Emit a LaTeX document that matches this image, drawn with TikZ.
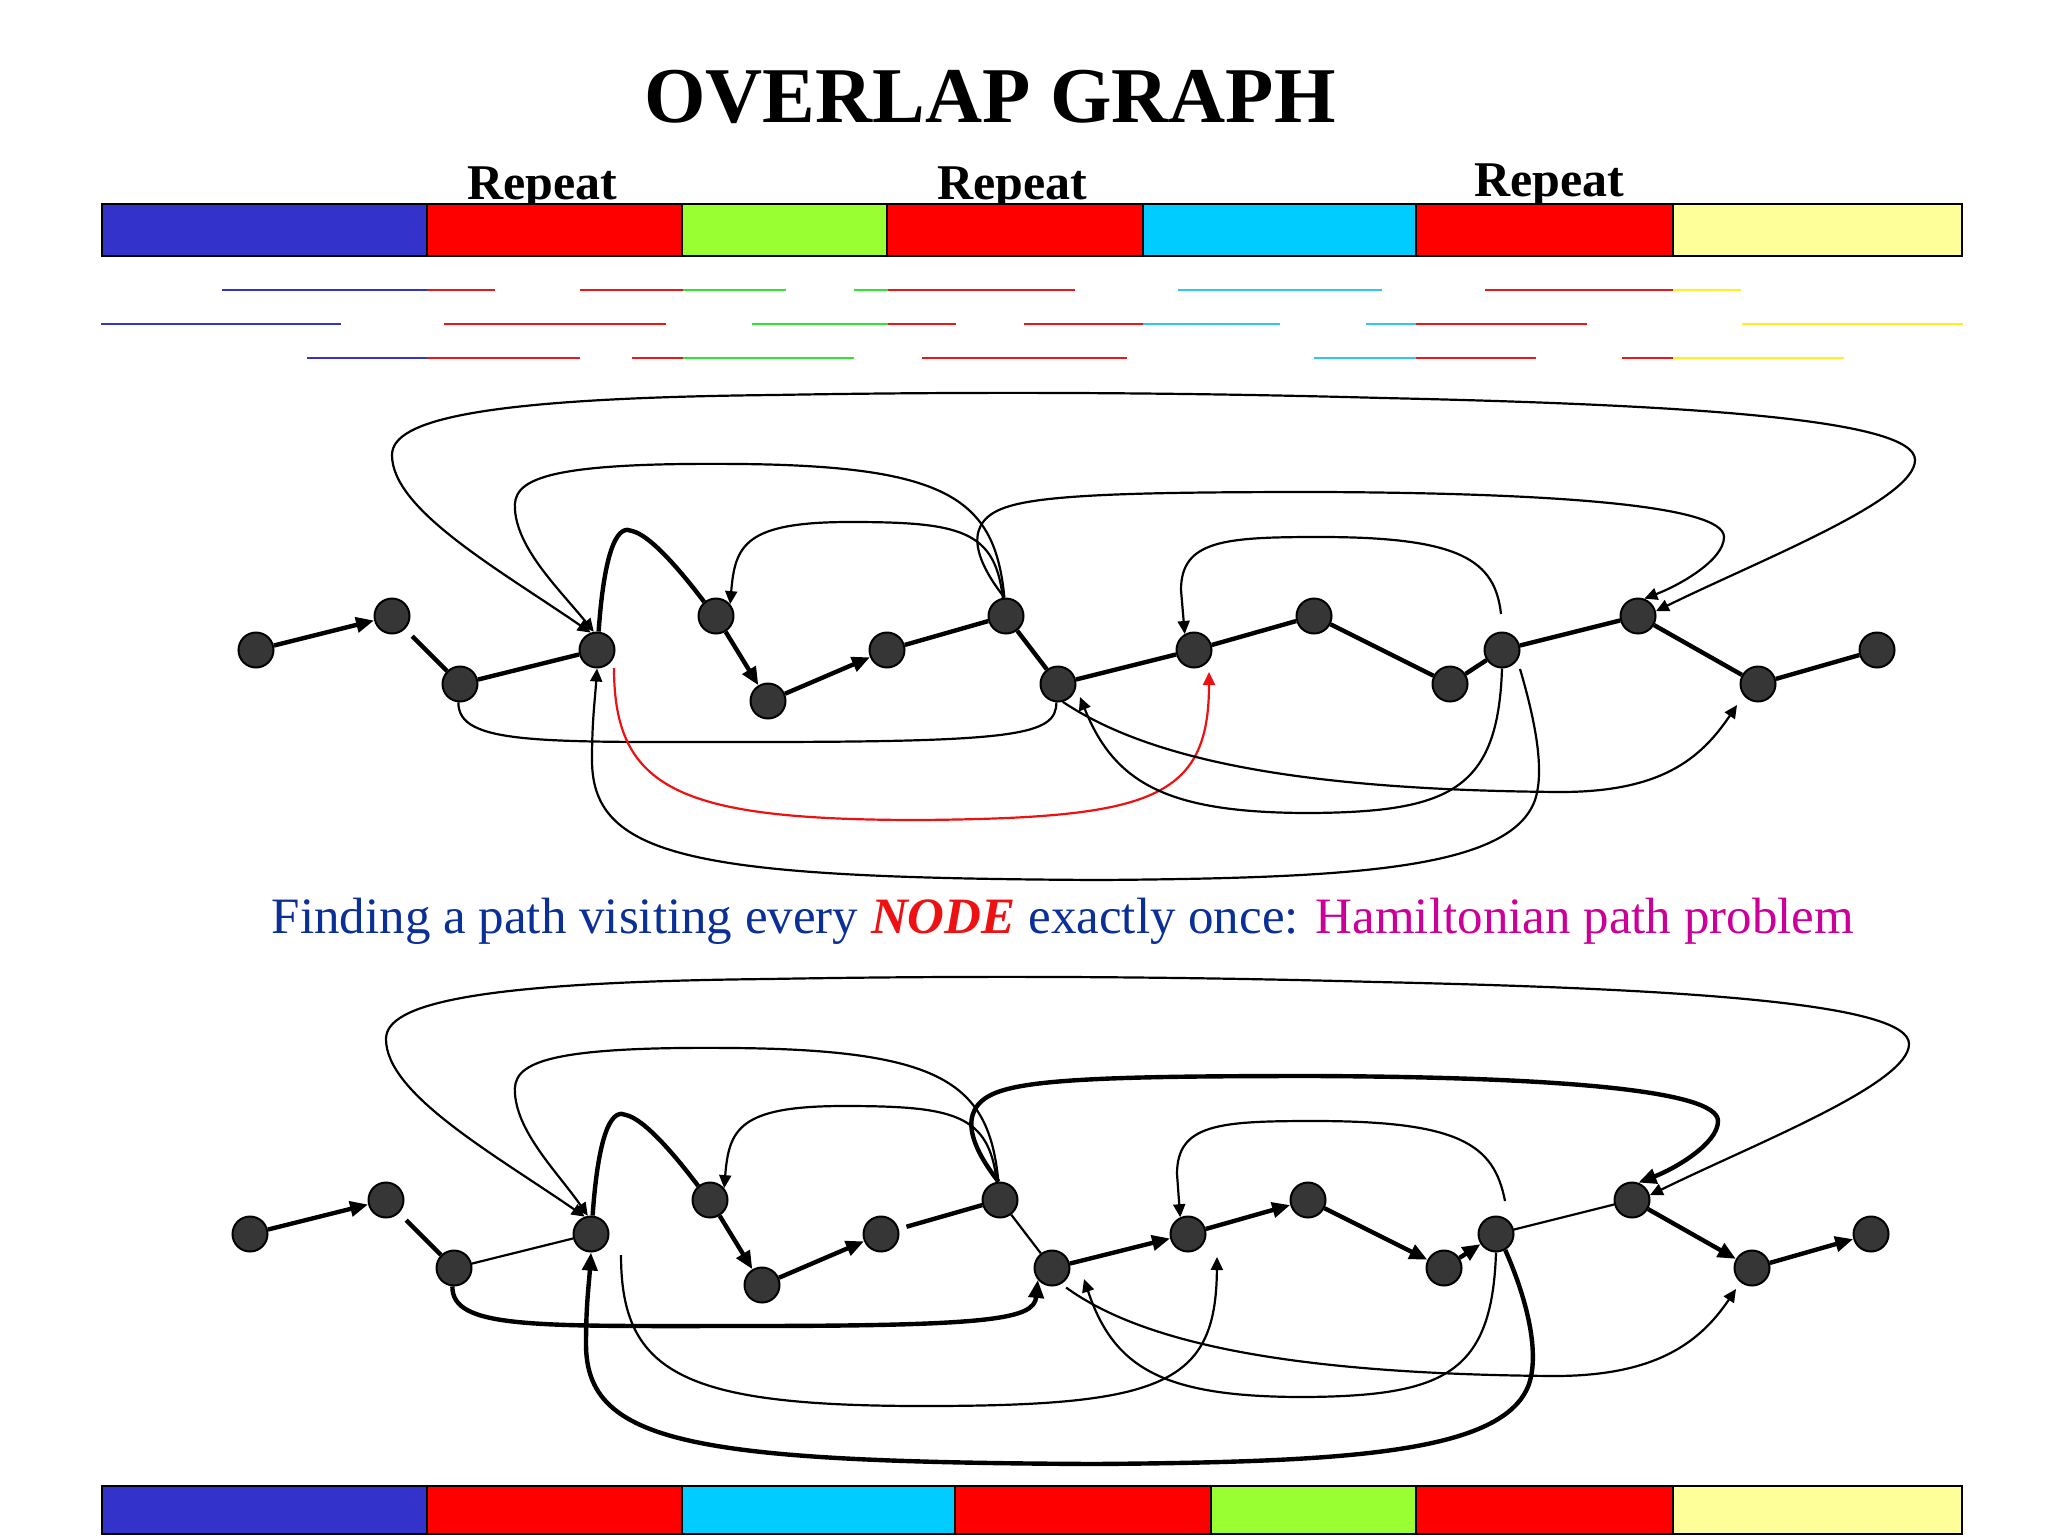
\documentclass[tikz,border=0pt]{standalone}
\usepackage{fontspec}
\setmainfont{Liberation Serif}
\usetikzlibrary{arrows.meta}
\definecolor{barblue}{HTML}{3333CC}
\definecolor{barred}{HTML}{FF0000}
\definecolor{bargreen}{HTML}{99FF33}
\definecolor{barcyan}{HTML}{00CCFF}
\definecolor{baryellow}{HTML}{FFFF99}
\definecolor{rdblue}{HTML}{3535C5}
\definecolor{rdred}{HTML}{F01515}
\definecolor{rdgreen}{HTML}{2EE62E}
\definecolor{rdcyan}{HTML}{2CC8F0}
\definecolor{rdyellow}{HTML}{FFF21A}
\definecolor{nodegray}{HTML}{363636}
\definecolor{capblue}{HTML}{0A2F96}
\definecolor{capmag}{HTML}{CC0099}
\definecolor{capred}{HTML}{EE1111}
\begin{document}
\begin{tikzpicture}[x=0.5pt,y=-0.5pt,
  gnode/.style={circle,draw=black,line width=1pt,fill=nodegray,minimum size=17.5pt,inner sep=0pt},
  thk/.style={line width=2.2pt},
  thn/.style={line width=1.1pt},
  arrowend/.style={-{Triangle[length=6.5pt,width=6pt]}},
  bigarrow/.style={-{Triangle[length=9pt,width=7.5pt]}},
  bothends/.style={{Triangle[length=6.5pt,width=6pt]}-{Triangle[length=6.5pt,width=6pt]}},
  segbox/.style={draw=black,line width=1.3pt},
  readline/.style={line width=1.3pt}]
\useasboundingbox (0,0) rectangle (2048,1536);
\fill[white] (0,0) rectangle (2048,1536);

% title and labels
\node[anchor=base,font=\fontsize{39.5}{42}\selectfont\bfseries] (title) at (990,122) {OVERLAP GRAPH};
\node[anchor=base,font=\fontsize{25}{27}\selectfont\bfseries] (rep1) at (542,199) {Repeat};
\node[anchor=base,font=\fontsize{25}{27}\selectfont\bfseries] (rep2) at (1012,199) {Repeat};
\node[anchor=base,font=\fontsize{25}{27}\selectfont\bfseries] (rep3) at (1549,196) {Repeat};

% top genome bar
\foreach \xa/\xb/\c in {102/427/barblue,427/682/barred,682/887/bargreen,887/1143/barred,1143/1416/barcyan,1416/1673/barred,1673/1962/baryellow}
  \filldraw[fill=\c,segbox] (\xa,204) rectangle (\xb,256);

% reads
\foreach \xa/\xb/\yy/\c in {
  222/427/290/rdblue,427/495/290/rdred,580/683/290/rdred,683/786/290/rdgreen,854/888/290/rdgreen,888/1075/290/rdred,1178/1382/290/rdcyan,1485/1673/290/rdred,1673/1741/290/rdyellow,
  101/341/324/rdblue,444/666/324/rdred,752/888/324/rdgreen,888/956/324/rdred,1024/1143/324/rdred,1143/1280/324/rdcyan,1366/1416/324/rdcyan,1416/1587/324/rdred,1742/1963/324/rdyellow,
  307/427/358/rdblue,427/580/358/rdred,632/683/358/rdred,683/854/358/rdgreen,922/1127/358/rdred,1314/1416/358/rdcyan,1416/1536/358/rdred,1622/1673/358/rdred,1673/1844/358/rdyellow}
  \draw[readline,\c] (\xa,\yy) -- (\xb,\yy);

% ---------------- graph 1 ----------------
\node[gnode] (a1) at (256,650) {};
\node[gnode] (a2) at (392,616) {};
\node[gnode] (a3) at (460,684) {};
\node[gnode] (a4) at (597,650) {};
\node[gnode] (a5) at (716,616) {};
\node[gnode] (a6) at (768,701) {};
\node[gnode] (a7) at (887,650) {};
\node[gnode] (a8) at (1006,616) {};
\node[gnode] (a9) at (1058,684) {};
\node[gnode] (a10) at (1194,650) {};
\node[gnode] (a11) at (1314,616) {};
\node[gnode] (a12) at (1450,684) {};
\node[gnode] (a13) at (1502,650) {};
\node[gnode] (a14) at (1638,616) {};
\node[gnode] (a15) at (1758,684) {};
\node[gnode] (a16) at (1877,650) {};
\coordinate (redS) at (614,668);
\coordinate (redE) at (1209,672);
\coordinate (c5S) at (1501,614);
\coordinate (c8S) at (1520,669);
\coordinate (c9E) at (1080,697);
\coordinate (c10E) at (1737,705);

\draw[thk,bigarrow] (a1) -- (a2);
\draw[thk,shorten <=5pt] (a2) -- (a3);
\draw[thk] (a3) -- (a4);
\draw[thk] (a4.85) .. controls (605,540) and (620,525) .. (632,531) .. controls (650,535) and (680,570) .. (a5.130);
\draw[thk,bigarrow] (a5) -- (a6);
\draw[thk,bigarrow] (a6) -- (a7);
\draw[thk] (a7) -- (a8);
\draw[thk] (a8) -- (a9);
\draw[thk] (a9) -- (a10);
\draw[thk] (a10) -- (a11);
\draw[thk] (a11) -- (a12);
\draw[thk] (a12) -- (a13);
\draw[thk] (a13) -- (a14);
\draw[thk] (a14) -- (a15);
\draw[thk] (a15) -- (a16);

\draw[thn,bothends] (a4.110) .. controls (500,570) and (392,510) .. (392,455) .. controls (392,420) and (480,398) .. (774,395) .. controls (1000,391) and (1200,393) .. (1383,398) .. controls (1700,405) and (1915,420) .. (1915,460) .. controls (1915,500) and (1760,560) .. (a14.15);
\draw[thn,arrowend] (a8.95) .. controls (995,500) and (950,466) .. (740,464) .. controls (540,462) and (512,480) .. (515,510) .. controls (518,550) and (560,590) .. (a4.100);
\draw[thn,arrowend] (a8.100) .. controls (995,530) and (960,522) .. (850,522) .. controls (745,522) and (735,545) .. (a5.40);
\draw[thn,arrowend] (a8.95) .. controls (975,560) and (960,520) .. (1010,506) .. controls (1050,494) and (1150,492) .. (1320,492) .. controls (1550,493) and (1724,505) .. (1724,537) .. controls (1724,560) and (1680,585) .. (a14.70);
\draw[thn,arrowend] (c5S) .. controls (1495,560) and (1460,537) .. (1320,537) .. controls (1225,537) and (1181,540) .. (1181,590) -- (a10.120);
\draw[thn] (a3.-95) .. controls (458,745) and (540,742) .. (750,742) .. controls (1020,742) and (1056,735) .. (a9.-95);
\draw[thn,capred,arrowend] (redS) .. controls (614,790) and (680,820) .. (920,820) .. controls (1150,818) and (1209,800) .. (redE);
\draw[thn,arrowend] (c8S) .. controls (1535,720) and (1545,770) .. (1535,800) .. controls (1510,870) and (1350,878) .. (1100,880) .. controls (700,878) and (592,860) .. (592,760) .. controls (592,720) and (595,700) .. (a4.-90);
\draw[thn,arrowend] (a13.-90) .. controls (1498,790) and (1450,812) .. (1310,813) .. controls (1170,813) and (1115,785) .. (c9E);
\draw[thn,arrowend] (a9.-75) .. controls (1150,760) and (1300,790) .. (1560,792) .. controls (1660,792) and (1700,760) .. (c10E);

% caption
\node[anchor=base,font=\fontsize{25.5}{28}\selectfont] (cap) at (1063,933) {\textcolor{capblue}{Finding a path visiting every} \textcolor{capred}{\bfseries\itshape NODE} \textcolor{capblue}{exactly once:} \textcolor{capmag}{Hamiltonian path problem}};

% ---------------- graph 2 ----------------
\begin{scope}[xshift=-3pt,yshift=-292pt]
\node[gnode] (b1) at (256,650) {};
\node[gnode] (b2) at (392,616) {};
\node[gnode] (b3) at (460,684) {};
\node[gnode] (b4) at (597,650) {};
\node[gnode] (b5) at (716,616) {};
\node[gnode] (b6) at (768,701) {};
\node[gnode] (b7) at (887,650) {};
\node[gnode] (b8) at (1006,616) {};
\node[gnode] (b9) at (1058,684) {};
\node[gnode] (b10) at (1194,650) {};
\node[gnode] (b11) at (1314,616) {};
\node[gnode] (b12) at (1450,684) {};
\node[gnode] (b13) at (1502,650) {};
\node[gnode] (b14) at (1638,616) {};
\node[gnode] (b15) at (1758,684) {};
\node[gnode] (b16) at (1877,650) {};
\coordinate (d5S) at (1511,617);
\coordinate (d7S) at (627,671);
\coordinate (d7E) at (1223,673);
\coordinate (d9E) at (1090,695);
\coordinate (d10E) at (1742,705);

\draw[thk,bigarrow] (b1) -- (b2);
\draw[thk,shorten <=5pt] (b2) -- (b3);
\draw[thn] (b3) -- (b4);
\draw[thk] (b4.85) .. controls (605,540) and (620,525) .. (632,531) .. controls (650,535) and (680,570) .. (b5.130);
\draw[thk,bigarrow] (b5) -- (b6);
\draw[thk,bigarrow] (b6) -- (b7);
\draw[thk,shorten <=4pt] (b7) -- (b8);
\draw[thn] (b8) -- (b9);
\draw[thk,bigarrow] (b9) -- (b10);
\draw[thk,bigarrow] (b10) -- (b11);
\draw[thk,bigarrow] (b11) -- (b12);
\draw[thk,bigarrow] (b12) -- (b13);
\draw[thn] (b13) -- (b14);
\draw[thk,bigarrow] (b14) -- (b15);
\draw[thk,bigarrow] (b15) -- (b16);

\draw[thn,bothends] (b4.110) .. controls (500,570) and (392,510) .. (392,455) .. controls (392,420) and (480,398) .. (774,395) .. controls (1000,391) and (1200,393) .. (1383,398) .. controls (1700,405) and (1915,420) .. (1915,460) .. controls (1915,500) and (1760,560) .. (b14.15);
\draw[thn,arrowend] (b8.95) .. controls (995,500) and (950,466) .. (740,464) .. controls (545,462) and (518,480) .. (521,510) .. controls (524,550) and (565,590) .. (b4.100);
\draw[thn,arrowend] (b8.100) .. controls (995,530) and (960,522) .. (850,522) .. controls (745,522) and (735,545) .. (b5.40);
\draw[thk,bigarrow] (b8.95) .. controls (975,560) and (960,520) .. (1010,506) .. controls (1050,494) and (1150,492) .. (1320,492) .. controls (1550,493) and (1724,505) .. (1724,537) .. controls (1724,560) and (1680,585) .. (b14.70);
\draw[thn,arrowend] (d5S) .. controls (1500,560) and (1465,537) .. (1320,537) .. controls (1225,537) and (1183,540) .. (1183,590) -- (b10.115);
\draw[thk,bigarrow] (b3.-95) .. controls (458,745) and (540,742) .. (750,742) .. controls (1000,742) and (1040,735) .. (b9.-140);
\draw[thn,arrowend] (d7S) .. controls (627,790) and (690,822) .. (930,822) .. controls (1170,822) and (1222,800) .. (d7E);
\draw[thk,bigarrow] (b13.-60) .. controls (1535,720) and (1545,770) .. (1535,800) .. controls (1510,870) and (1350,878) .. (1100,880) .. controls (700,878) and (592,860) .. (592,760) .. controls (592,720) and (595,700) .. (b4.-90);
\draw[thn,arrowend] (b13.-90) .. controls (1498,790) and (1450,812) .. (1310,813) .. controls (1170,813) and (1120,785) .. (d9E);
\draw[thn,arrowend,shorten <=3pt] (b9.-60) .. controls (1150,760) and (1300,790) .. (1560,792) .. controls (1660,792) and (1705,760) .. (d10E);
\end{scope}

% bottom genome bar
\foreach \xa/\xb/\c in {102/427/barblue,427/682/barred,682/955/barcyan,955/1211/barred,1211/1416/bargreen,1416/1673/barred,1673/1962/baryellow}
  \filldraw[fill=\c,segbox] (\xa,1486) rectangle (\xb,1534);
\end{tikzpicture}
\end{document}
